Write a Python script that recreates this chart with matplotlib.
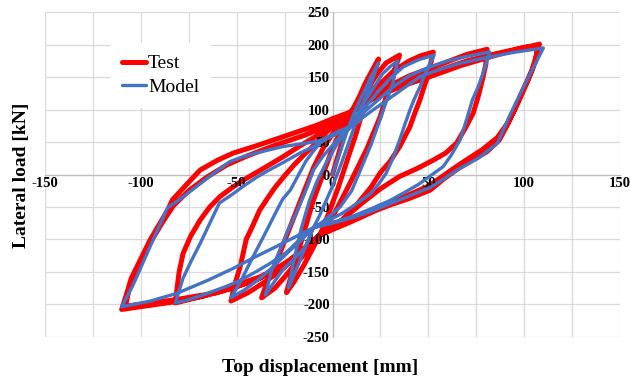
import matplotlib
matplotlib.use("Agg")
import matplotlib.pyplot as plt

# ---------------- data ----------------
test_disp = [0, 3, 6, 10, 14, 17, 21, 24,
             21, 18, 15, 12, 8, 3, -2, -6.5, -11, -15, -20, -24,
             -21, -18, -14, -10, -5, 0, 5, 10, 15, 20, 24, 28, 35,
             32.5, 30, 27.5, 25, 21.5, 18, 13, 8, 1, -6.5, -13, -20, -25, -30, -37,
             -34, -30, -26, -22, -18, -14, -10, -5, 2, 10, 18, 25, 32, 40, 46, 52.6,
             51, 49, 47, 45.6, 43, 40.4, 37.5, 35, 30, 25, 20, 13, 5, -6.5, -13, -20, -27, -35, -44, -53,
             -51, -48, -45, -41, -38, -34, -30, -25, -20, -14, -8, 0, 10, 20, 30, 40, 52, 62, 70, 80.7,
             80, 78.6, 76, 73.4, 69, 64.8, 59, 52.5, 44, 35, 25, 15, 5, -6.5, -15, -26, -38, -52, -67, -82,
             -81.3, -80, -78, -74, -69, -64, -58.7, -51.8, -45, -38, -26, -17, -8, 0, 10, 22, 35, 45, 52, 67, 82, 95, 108,
             106, 104, 99, 95, 91, 87, 80.5, 73, 66, 58, 51, 40, 30, 23, 8, -6.5, -16, -26, -38, -52, -67, -82, -96, -110,
             -107, -105, -100, -95, -90, -86, -83.5, -76, -69, -60, -51.8, -40, -26, -17, -8, 0, 10,
             25, 40, 55, 70, 85, 100, 107,
             106, 102, 97, 92, 86, 78, 66, 50, 30, 10, -6.5, -22, -40, -60, -82, -100, -108,
             -106, -101, -95, -89, -83, -75, -66, -55, -45, -30, -15, -5, 5, 10]
test_load = [0, 30, 60, 97, 120, 140, 162, 178,
             150, 120, 90, 60, 25, -20, -60, -93, -118, -140, -165, -182,
             -150, -120, -80, -40, 0, 40, 72, 97, 120, 140, 158, 172, 184,
             162, 140, 115, 90, 65, 40, 10, -20, -60, -93, -118, -140, -158, -175, -190,
             -165, -140, -110, -80, -50, -20, 10, 40, 72, 97, 120, 140, 160, 175, 183, 188.6,
             168, 145.6, 128, 114.8, 95, 73.6, 57, 42.8, 20, 3, -20, -45, -70, -93, -112, -130, -148, -165, -182, -195,
             -170, -140, -100, -75, -55, -37, -20, -2, 15, 33, 50, 75, 97, 118, 137, 152, 165, 176, 185, 193,
             170, 150.7, 120, 94.6, 70, 48.5, 33, 22, 9, -3, -22, -45, -70, -93, -115, -140, -158, -172, -187, -198,
             -180, -150, -122, -95, -70, -50, -34, -19, -6, 6, 27, 44, 60, 78, 97, 118, 135, 145, 152, 168, 181, 192, 201,
             180, 160, 128, 100, 75, 53, 35, 22, 10, -7, -24, -37, -47, -55, -75, -93, -118, -142, -160, -175, -187, -196, -202, -208,
             -180, -160, -130, -100, -75, -55, -39, -15, 7, 22, 33, 44, 58, 67, 76, 86, 97,
             125, 148, 160, 175, 186, 196, 198,
             175, 145, 112, 82, 57, 38, 15, -18, -44, -70, -93, -132, -163, -182, -193, -200, -203,
             -175, -140, -105, -75, -48, -25, -5, 15, 28, 45, 60, 72, 85, 92]

model_disp = [0, 4, 8, 12, 16, 20, 24,
              20, 16, 12.6, 8, 4, 0, -4, -7, -10, -14, -18, -23,
              -20, -16, -12, -8, -3, 2, 6, 10, 15, 19.6, 26, 30, 34,
              32.5, 31.6, 29, 26.4, 23, 20, 15, 10, 4, -2, -6, -10, -12, -14, -20, -26, -31, -35,
              -32, -28, -23, -19, -14, -10, -5, 0, 5, 10, 16, 23, 30, 37, 45, 53,
              49, 45.6, 42.5, 40.4, 37.5, 35, 31.5, 28, 24, 20, 12, 5, -3, -10, -17, -25, -32, -40, -46, -53,
              -48, -41.5, -35, -29, -26, -22, -18, -14, -10, -6, -2, 2, 6, 10, 16, 23, 31.6, 40, 51, 60, 70, 82,
              79, 76, 73, 70, 66.5, 62, 57.7, 52, 45, 38, 30, 20, 10, 0, -10, -17, -24, -32, -40, -48, -55, -65, -74, -82,
              -78, -74, -69, -64, -59, -55, -52, -46, -40, -33, -26, -17, -8, 0, 5, 10, 20, 30, 38, 45.6, 55, 66, 78.5, 94, 110,
              104, 98, 92, 86, 76, 65, 58, 51, 40, 30, 20, 10, 0, -10, -20, -30, -41, -52, -65, -81, -95, -110,
              -104, -98, -92, -86, -80, -72, -65, -59, -53.5, -47, -40, -33, -26, -17, -8, 0, 5, 10, 14]
model_load = [0, 35, 70, 100, 125, 150, 172,
              140, 110, 84, 45, 12, -18, -45, -65, -82, -110, -140, -175,
              -130, -80, -40, -10, 20, 45, 62, 75, 105, 125, 155, 166, 175,
              155, 141, 120, 99, 70, 45, 10, -25, -50, -65, -75, -82, -97, -111, -130, -147, -168, -186,
              -150, -120, -85, -60, -25, 7, 28, 45, 62, 75, 100, 125, 148, 166, 177, 184,
              160, 135, 115, 99.5, 75, 53, 25, 2, -15, -29, -46, -60, -72, -82, -103, -125, -145, -165, -178, -190,
              -165, -127, -90, -55, -38, -24, -2, 20, 36, 50, 59, 65, 70, 75, 95, 113, 135, 152, 166, 175, 182, 189,
              160, 135, 115, 85, 53, 30, 12, 0, -15, -27, -40, -53, -65, -74, -82, -100, -120, -136, -150, -163, -172, -183, -192, -198,
              -160, -135, -106, -75, -44, -36, -30, -17, -5, 7, 18, 33, 46, 60, 67, 75, 97, 118, 135, 150.7, 161, 171, 179, 188, 195,
              160, 125, 88, 48, 25, 7, -7, -20, -33, -45, -57, -67, -75, -82, -97, -112, -128, -145, -163, -183, -195, -204,
              -170, -130, -90, -51, -39, -21, -5, 8, 20, 27, 33, 38, 43, 47, 51, 60, 67, 75, 82]

x_ticks = [-150, -100, -50, 0, 50, 100, 150]
y_ticks = [-250, -200, -150, -100, -50, 0, 50, 100, 150, 200, 250]
x_grid = [-150, -125, -100, -75, -50, -25, 0, 25, 50, 75, 100, 125, 150]

# ---------------- figure ----------------
plt.rcParams['font.family'] = ['Liberation Serif', 'DejaVu Serif']
fig = plt.figure(figsize=(6.3, 3.85), dpi=100)
ax = fig.add_axes([45/630, 1-336.7/385, 575/630, 324.4/385])
ax.set_xlim(-150, 150)
ax.set_ylim(-250, 250)

grid_c = '#d9d9d9'
for gx in x_grid:
    ax.axvline(gx, color=grid_c, lw=0.9, zorder=0.5)
for gy in y_ticks:
    ax.axhline(gy, color=grid_c, lw=0.9, zorder=0.5)

ax.plot(test_disp, test_load, color='#ff0000', lw=3.6, solid_joinstyle='round',
        solid_capstyle='round', label='Test', zorder=2)
ax.plot(model_disp, model_load, color='#4472c4', lw=2.4, solid_joinstyle='round',
        solid_capstyle='round', label='Model', zorder=3)

for s in ['top', 'right']:
    ax.spines[s].set_visible(False)
for s in ['left', 'bottom']:
    ax.spines[s].set_position(('data', 0))
    ax.spines[s].set_color('#bfbfbf')
    ax.spines[s].set_linewidth(0.9)
    ax.spines[s].set_zorder(1)
ax.set_axisbelow(False)

ax.set_xticks(x_ticks)
ax.set_xticklabels([str(v) for v in x_ticks])
ax.set_yticks(y_ticks)
ax.set_yticklabels([str(v) for v in y_ticks])
ax.tick_params(length=0, labelsize=10.5, pad=2)
for lab in ax.get_xticklabels() + ax.get_yticklabels():
    lab.set_fontweight('bold')
    lab.set_zorder(5)

fig.text(22/630, 1-175/385, 'Lateral load [kN]', rotation=90, ha='center', va='center',
         fontsize=14, fontweight='bold')
fig.text(320/630, 1-367/385, 'Top displacement [mm]', ha='center', va='center',
         fontsize=14, fontweight='bold')

leg = ax.legend(loc='upper left', bbox_to_anchor=(0.113, 0.905), borderaxespad=0,
                fontsize=14, frameon=True, fancybox=False, framealpha=1,
                edgecolor='none', facecolor='white', handlelength=1.25,
                handletextpad=0.1, labelspacing=0.3, borderpad=0.6)
leg.set_zorder(6)

fig.savefig('out.png', dpi=100)
